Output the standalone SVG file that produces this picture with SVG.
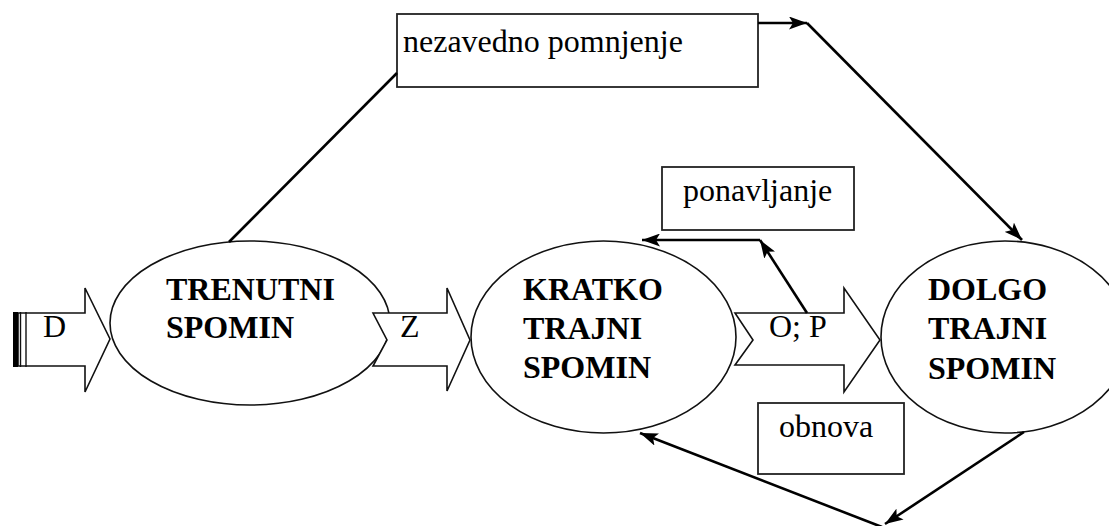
<svg xmlns="http://www.w3.org/2000/svg" width="1109" height="526" viewBox="0 0 1109 526">
  <style>
    .mem { fill: #fff; stroke: #111; stroke-width: 1.6; }
    .flow { fill: #fff; stroke: #111; stroke-width: 1.6; stroke-linejoin: miter; }
    .box { fill: #fff; stroke: #222; stroke-width: 1.8; }
    .link { fill: none; stroke: #000; stroke-width: 2.6; }
    .lbl { font-family: "Liberation Serif", "Times New Roman", serif; font-size: 32px; fill: #000; }
    .title { font-family: "Liberation Serif", "Times New Roman", serif; font-size: 32px; font-weight: bold; fill: #000; }
  </style>
  <defs>
    <marker id="ah" viewBox="0 0 18 13" refX="18" refY="6.5" markerWidth="18" markerHeight="13" markerUnits="userSpaceOnUse" orient="auto">
      <path d="M0,0 L18,6.5 L0,13 L4,6.5 Z" fill="#000"/>
    </marker>
  </defs>
  <rect width="1109" height="526" fill="#fff"/>

  <!-- memory stores -->
  <g id="trenutni">
    <ellipse class="mem" cx="250" cy="323" rx="140" ry="82"/>
    <text class="title" x="166" y="300">TRENUTNI</text>
    <text class="title" x="166" y="338">SPOMIN</text>
  </g>
  <g id="kratkotrajni">
    <ellipse class="mem" cx="603.5" cy="337" rx="132.5" ry="96"/>
    <text class="title" x="523" y="300">KRATKO</text>
    <text class="title" x="523" y="339">TRAJNI</text>
    <text class="title" x="523" y="378">SPOMIN</text>
  </g>
  <g id="dolgotrajni">
    <ellipse class="mem" cx="1005" cy="337" rx="124" ry="96"/>
    <text class="title" x="928" y="300">DOLGO</text>
    <text class="title" x="928" y="339">TRAJNI</text>
    <text class="title" x="928" y="379">SPOMIN</text>
  </g>

  <!-- block arrows between stores -->
  <g id="flow-d">
    <path class="flow" d="M18,313 L85,313 L85,288 L110,339 L85,392 L85,366 L18,366 Z"/>
    <rect x="13" y="312" width="5" height="55" fill="#000"/>
    <line x1="20.5" y1="312" x2="20.5" y2="367" stroke="#111" stroke-width="1.4"/>
    <line x1="26" y1="312" x2="26" y2="367" stroke="#111" stroke-width="1.4"/>
    <text class="lbl" x="43" y="337">D</text>
  </g>
  <g id="flow-z">
    <path class="flow" d="M373,313 L447,313 L447,288 L470,340 L447,391 L447,366 L373,366 L387,340 Z"/>
    <text class="lbl" x="400" y="337">Z</text>
  </g>
  <g id="flow-op">
    <path class="flow" d="M735,313 L844,313 L844,288 L880,340 L844,392 L844,365 L735,365 L753,340 Z"/>
    <text class="lbl" x="769" y="337">O; P</text>
  </g>

  <!-- process boxes -->
  <g id="nezavedno">
    <rect class="box" x="397" y="14" width="361" height="73"/>
    <text class="lbl" x="403" y="52">nezavedno pomnjenje</text>
  </g>
  <g id="ponavljanje">
    <rect class="box" x="662" y="167" width="192" height="63"/>
    <text class="lbl" x="683" y="201">ponavljanje</text>
  </g>
  <g id="obnova">
    <rect class="box" x="758" y="403" width="146" height="71"/>
    <text class="lbl" x="779" y="437">obnova</text>
  </g>

  <!-- connectors -->
  <g id="connectors">
    <line class="link" x1="229" y1="242" x2="397" y2="73"/>
    <line class="link" x1="758" y1="23" x2="807" y2="23" marker-end="url(#ah)"/>
    <line class="link" x1="807" y1="23" x2="1022" y2="240" marker-end="url(#ah)"/>
    <line class="link" x1="807" y1="313" x2="760" y2="240" marker-end="url(#ah)"/>
    <line class="link" x1="760" y1="240" x2="642" y2="240" marker-end="url(#ah)"/>
    <line class="link" x1="1024" y1="432" x2="885" y2="524" marker-end="url(#ah)"/>
    <line class="link" x1="882" y1="527" x2="640" y2="433" marker-end="url(#ah)"/>
  </g>
</svg>
